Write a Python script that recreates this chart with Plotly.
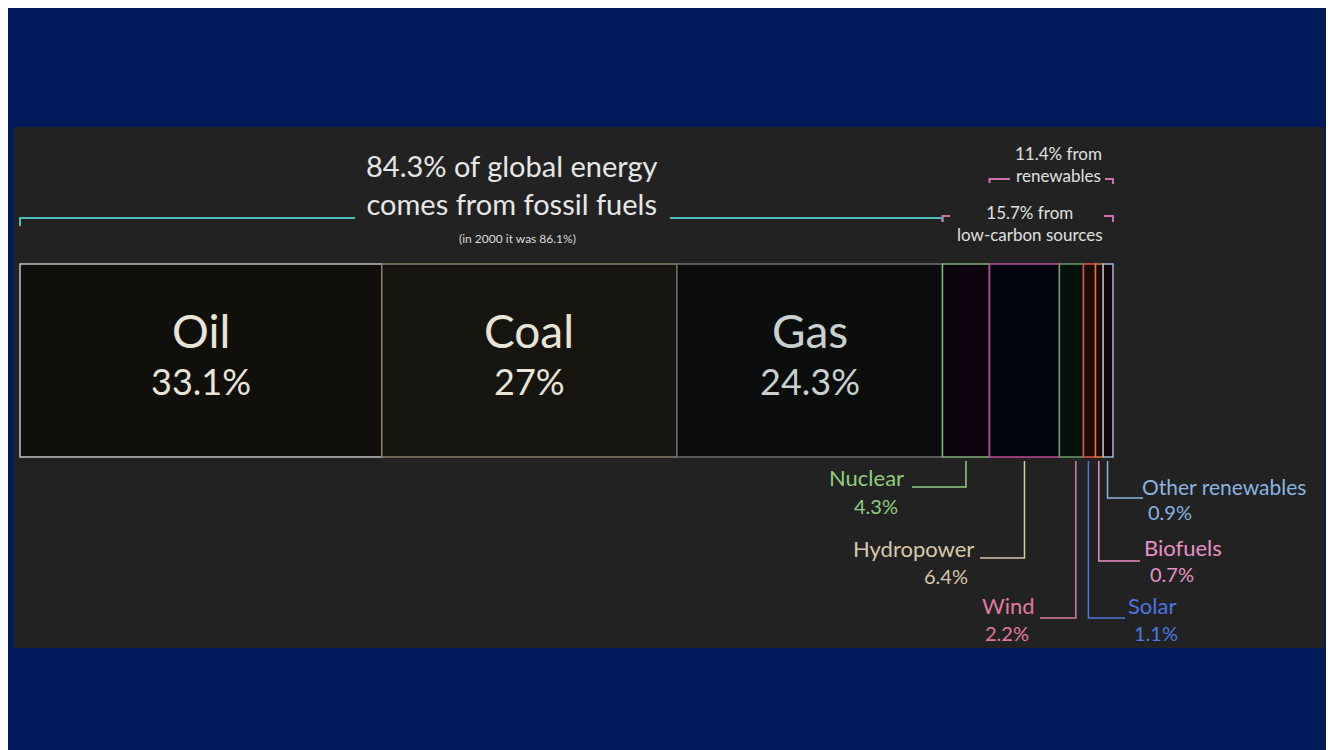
import plotly.graph_objects as go

sources = ["Oil", "Coal", "Gas", "Nuclear", "Hydropower", "Wind", "Solar", "Biofuels", "Other renewables"]
shares = [33.1, 27, 24.3, 4.3, 6.4, 2.2, 1.1, 0.7, 0.9]
fills = ["#100f0c", "#17150f", "#0b0c0c", "#0d030e", "#02040d", "#04100a", "#1a0b05", "#1a0805", "#120505"]
edges = ["#b9c3cc", "#8a7e68", "#6e6e6e", "#7fb47a", "#c04a9a", "#6a9a6a", "#e0504a", "#e07a30", "#9ab8e0"]
label_colors = ["#e8e4d8", "#e8e4d8", "#c8d0d0", "#8fce7f", "#d8c8a8", "#e07aa0", "#4a78e0", "#e890c8", "#8ab4e0"]

fossil_total = "84.3%"
fossil_2000 = "86.1%"
lowcarbon_total = "15.7%"
renew_total = "11.4%"

# pixel mapping: 0% at x=20px, 100% at x=1113px, y axis in pixels
# (page body has an 8px margin, so axes ranges are shifted by 8)
PX = 10.93
X0 = 20
OFF = 8
def px(v):
    return (v - X0) / PX

starts = []
acc = 0
for s in shares:
    starts.append(acc)
    acc += s
mids = [a + s / 2 for a, s in zip(starts, shares)]

fig = go.Figure()
for name, s, b, f, e in zip(sources, shares, starts, fills, edges):
    fig.add_trace(go.Bar(x=[s], base=[b], y=[360.5], width=193, orientation="h",
                         marker=dict(color=f, line=dict(color=e, width=1.5)),
                         name=name, hoverinfo="name"))

shapes = [dict(type="rect", xref="x", yref="y", x0=px(14), x1=px(1324), y0=127, y1=648,
               fillcolor="#222222", line=dict(width=0), layer="below")]
ann = []

# big labels
for i in range(3):
    ann.append(dict(x=mids[i], y=330, text=sources[i], showarrow=False,
                    font=dict(size=46, color=label_colors[i], family="Lato")))
    ann.append(dict(x=mids[i], y=381, text=f"{shares[i]:g}%", showarrow=False,
                    font=dict(size=36, color=label_colors[i], family="Lato")))

# small labels with connectors: (drop y, horizontal end px, label x px, anchor, label y, value y)
small = {
    3: (487, 912, 906, "right", 477, 506),
    4: (558, 980, 976, "right", 548, 576),
    5: (618, 1040, 1037, "right", 605, 633),
    6: (618, 1125, 1126, "left", 605, 633),
    7: (561, 1140, 1142, "left", 547, 574),
    8: (498, 1143, 1140, "left", 486, 512),
}
conn_x = {3: mids[3], 4: mids[4], 5: starts[5] + 1.5, 6: starts[6] + 0.45, 7: starts[7] + 0.3, 8: starts[8] + 0.4}
for i, (ydrop, hend, lx, anc, ly1, ly2) in small.items():
    cx = conn_x[i]
    shapes.append(dict(type="path", xref="x", yref="y",
                       path=f"M {cx},461 L {cx},{ydrop} L {px(hend)},{ydrop}",
                       line=dict(color=label_colors[i], width=1.5)))
    ann.append(dict(x=px(lx), y=ly1, text=sources[i], showarrow=False, xanchor=anc,
                    font=dict(size=22 if i != 8 else 21, color=label_colors[i], family="Lato")))
    ann.append(dict(x=px(lx - 6 if anc == "right" else lx + 6), y=ly2, text=f"{shares[i]:g}%", showarrow=False,
                    xanchor=anc, font=dict(size=20, color=label_colors[i], family="Lato")))

# fossil bracket
teal = "#4fbcbc"
fossil_end = sum(shares[:3])
shapes += [
    dict(type="path", xref="x", yref="y", path=f"M 0,226 L 0,218 L {px(355)},218", line=dict(color=teal, width=2)),
    dict(type="path", xref="x", yref="y", path=f"M {px(670)},218 L {fossil_end},218 L {fossil_end},222", line=dict(color=teal, width=2)),
]
ann += [
    dict(x=px(512), y=184, text=f"{fossil_total} of global energy<br>comes from fossil fuels", showarrow=False,
         font=dict(size=29, color="#e6e6e6", family="Lato")),
    dict(x=px(517), y=238, text=f"(in 2000 it was {fossil_2000})", showarrow=False,
         font=dict(size=12, color="#dddddd", family="Lato")),
]

pink = "#d070b0"
shapes += [
    dict(type="path", xref="x", yref="y", path=f"M {fossil_end},222 L {fossil_end},216 L {px(950)},216", line=dict(color=pink, width=2)),
    dict(type="path", xref="x", yref="y", path=f"M {px(1104)},216 L 100,216 L 100,222", line=dict(color=pink, width=2)),
    dict(type="path", xref="x", yref="y", path=f"M {starts[4]},183 L {starts[4]},179 L {px(1010)},179", line=dict(color=pink, width=2)),
    dict(type="path", xref="x", yref="y", path=f"M {px(1105)},179 L 100,179 L 100,184", line=dict(color=pink, width=2)),
]
ann += [
    dict(x=px(1030), y=223, text=f"{lowcarbon_total} from<br>low-carbon sources", showarrow=False,
         font=dict(size=17, color="#e0e0e0", family="Lato"), xanchor="center"),
    dict(x=px(1058), y=164, text=f"{renew_total} from<br>renewables", showarrow=False,
         font=dict(size=17, color="#e0e0e0", family="Lato")),
]

fig.update_layout(
    width=1334, height=750, margin=dict(l=0, r=0, t=0, b=0),
    paper_bgcolor="#001a5c", plot_bgcolor="rgba(0,0,0,0)",
    showlegend=False, barmode="overlay", shapes=shapes, annotations=ann,
    xaxis=dict(range=[px(OFF), px(1334 + OFF)], visible=False, fixedrange=True),
    yaxis=dict(range=[750 + OFF, OFF], visible=False, fixedrange=True),
)
fig.write_html("out.html")
